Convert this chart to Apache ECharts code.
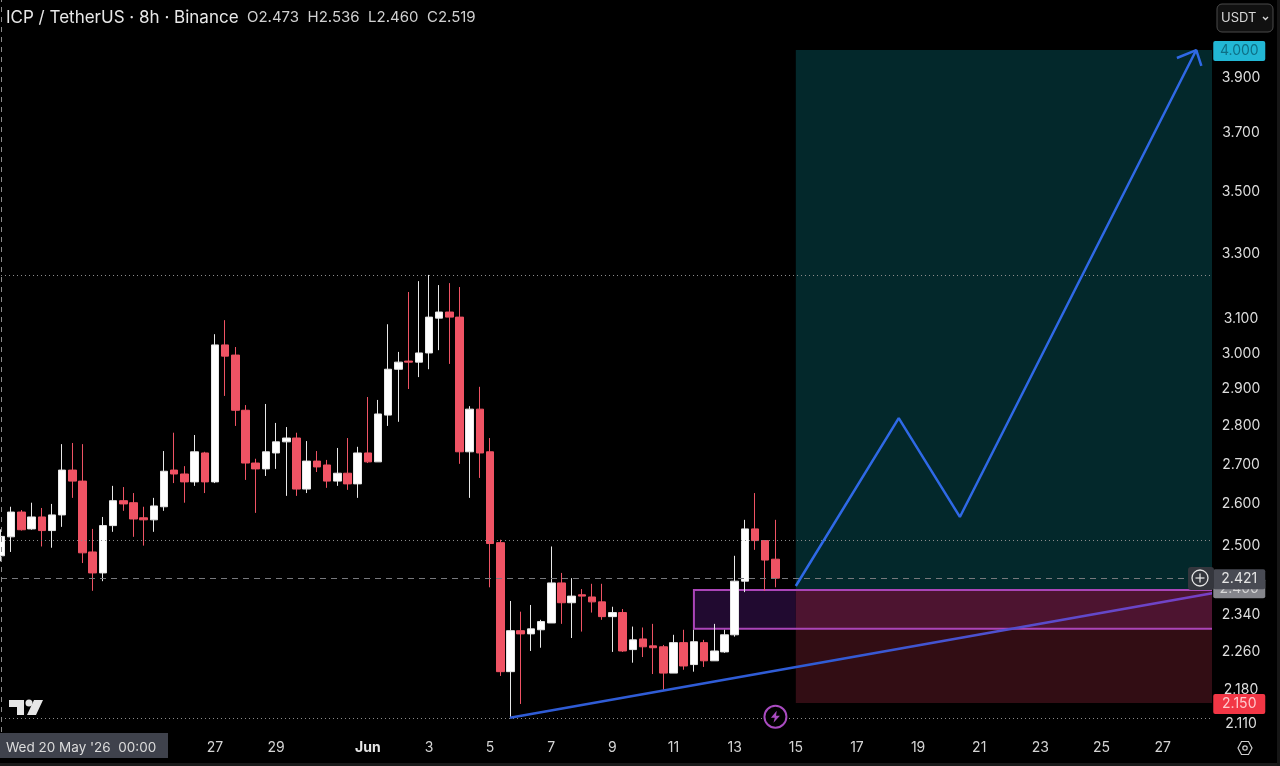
<!DOCTYPE html>
<html>
<head>
<meta charset="utf-8">
<title>ICP / TetherUS</title>
<script src="https://cdn.jsdelivr.net/npm/echarts@6/dist/echarts.min.js"></script>
<style>
  html, body { margin: 0; padding: 0; background: #000; }
  #chart { width: 1280px; height: 766px; }
</style>
</head>
<body>
<div id="chart"></div>
<script>
// days on the time axis, three 8h candles per day
var days = ["20", "21", "22", "23", "24", "25", "26", "27", "28", "29", "30", "31",
    "Jun", "2", "3", "4", "5", "6", "7", "8", "9", "10", "11", "12", "13", "14",
    "15", "16", "17", "18", "19", "20", "21", "22", "23", "24", "25", "26", "27", "28"];
var dayTicks = ["27", "29", "Jun", "3", "5", "7", "9", "11", "13", "15", "17", "19", "21", "23", "25"];

// [open, close, low, high], one row per 8h
var candles = [
    [2.473, 2.519, 2.460, 2.536], [2.518, 2.578, 2.482, 2.591], [2.578, 2.535, 2.533, 2.583], [2.537, 2.566, 2.535, 2.601],
    [2.566, 2.533, 2.495, 2.588], [2.533, 2.571, 2.492, 2.598], [2.571, 2.683, 2.542, 2.750], [2.683, 2.655, 2.613, 2.753],
    [2.655, 2.480, 2.456, 2.750], [2.482, 2.433, 2.392, 2.537], [2.433, 2.545, 2.414, 2.566], [2.545, 2.606, 2.530, 2.643],
    [2.606, 2.598, 2.581, 2.640], [2.601, 2.561, 2.518, 2.625], [2.564, 2.559, 2.497, 2.591], [2.559, 2.593, 2.530, 2.613],
    [2.591, 2.680, 2.581, 2.732], [2.683, 2.673, 2.650, 2.780], [2.673, 2.653, 2.601, 2.693], [2.653, 2.730, 2.643, 2.774],
    [2.727, 2.653, 2.625, 2.730], [2.653, 3.022, 2.650, 3.053], [3.022, 2.990, 2.879, 3.094], [2.993, 2.840, 2.798, 3.016],
    [2.840, 2.701, 2.658, 2.854], [2.701, 2.686, 2.576, 2.712], [2.686, 2.730, 2.668, 2.857], [2.727, 2.756, 2.686, 2.806],
    [2.756, 2.766, 2.618, 2.795], [2.766, 2.635, 2.618, 2.780], [2.635, 2.706, 2.625, 2.758], [2.706, 2.691, 2.678, 2.732],
    [2.696, 2.655, 2.638, 2.709], [2.655, 2.675, 2.643, 2.740], [2.675, 2.648, 2.633, 2.766], [2.648, 2.727, 2.613, 2.743],
    [2.727, 2.704, 2.701, 2.876], [2.704, 2.830, 2.704, 2.868], [2.827, 2.953, 2.798, 3.082], [2.953, 2.973, 2.809, 3.002],
    [2.976, 2.973, 2.898, 3.178], [2.973, 2.999, 2.931, 3.211], [2.999, 3.103, 2.953, 3.230], [3.100, 3.118, 3.007, 3.199],
    [3.118, 3.103, 2.968, 3.205], [3.103, 2.730, 2.699, 3.193], [2.730, 2.843, 2.613, 2.851], [2.843, 2.727, 2.663, 2.904],
    [2.730, 2.502, 2.400, 2.766], [2.504, 2.215, 2.206, 2.511], [2.215, 2.303, 2.120, 2.369], [2.303, 2.296, 2.148, 2.345],
    [2.296, 2.307, 2.259, 2.360], [2.305, 2.323, 2.266, 2.327], [2.320, 2.410, 2.320, 2.495], [2.410, 2.365, 2.318, 2.433],
    [2.365, 2.380, 2.287, 2.421], [2.383, 2.380, 2.301, 2.396], [2.378, 2.367, 2.343, 2.408], [2.367, 2.334, 2.327, 2.408],
    [2.334, 2.343, 2.257, 2.356], [2.343, 2.259, 2.257, 2.351], [2.262, 2.283, 2.234, 2.312], [2.285, 2.268, 2.246, 2.310],
    [2.270, 2.266, 2.210, 2.318], [2.268, 2.212, 2.177, 2.272], [2.212, 2.277, 2.212, 2.294], [2.277, 2.227, 2.219, 2.305],
    [2.230, 2.279, 2.215, 2.305], [2.277, 2.238, 2.225, 2.283], [2.238, 2.259, 2.238, 2.318], [2.257, 2.294, 2.255, 2.305],
    [2.294, 2.414, 2.290, 2.473], [2.414, 2.537, 2.389, 2.559], [2.537, 2.509, 2.487, 2.625], [2.509, 2.463, 2.392, 2.509],
    [2.465, 2.421, 2.400, 2.559]
];

// drawn setup, [candle index, price]
var forecastPath = [[78.0, 2.403], [88.1, 2.819], [94.1, 2.566], [117.3, 4.0]];
var arrowHead = [[115.4, 3.97], [117.3, 4.0], [117.8, 3.94]];
var trendLine = [[49.95, 2.12], [119, 2.387]];
var signalPoint = [[76, 2.122]];

var priceTicks = [3.9, 3.7, 3.5, 3.3, 3.1, 3.0, 2.9, 2.8, 2.7, 2.6, 2.5, 2.34, 2.26, 2.18, 2.11];
var tagValues = [2.4, 2.421, 4.0, 2.15];
var tagColors = ["#85868c", "#484a53", "#22b7d5", "#f23645"];
var tagTextColors = ["#d8d8d8", "#e4e4e4", "#0e6f86", "#ffc9cd"];
var dottedLevels = [3.233, 2.511, 2.12];
var crossPrice = 2.421;

var fontName = "Inter, 'Noto Sans', sans-serif";
var yMin = 2.0915, yMax = 4.195;

var categories = [];
days.forEach(function (d) {
    categories.push(d, d + " 08:00", d + " 16:00");
});

var markLines = dottedLevels.map(function (v) {
    return { yAxis: v, lineStyle: { type: [1, 3], color: "#8c8c8c", width: 1 } };
});
markLines.push({ yAxis: crossPrice, lineStyle: { type: [6, 5], color: "#77787c", width: 1 } });
markLines.push({ xAxis: 0, lineStyle: { type: [5, 5], color: "#8a8a8a", width: 1 } });

function overlayLine(name, data, color, width, z) {
    return {
        name: name,
        type: "line",
        xAxisIndex: 1,
        yAxisIndex: 0,
        data: data,
        symbol: "none",
        silent: true,
        z: z,
        lineStyle: { color: color, width: width }
    };
}

var chart = echarts.init(document.getElementById("chart"));
chart.setOption({
    animation: false,
    backgroundColor: "#000000",
    textStyle: { fontFamily: fontName },
    title: {
        left: 1,
        top: 4,
        text: "{main|ICP / TetherUS · 8h · Binance}{ohlc|  O" + candles[0][0].toFixed(3) + "  H" + candles[0][3].toFixed(3) +
            "  L" + candles[0][2].toFixed(3) + "  C" + candles[0][1].toFixed(3) + "}",
        textStyle: {
            fontWeight: "normal",
            rich: {
                main: { fontFamily: fontName, fontSize: 17, fontWeight: "normal", color: "#e8e8e8" },
                ohlc: { fontFamily: fontName, fontSize: 15, fontWeight: "normal", color: "#d0d0d0" }
            }
        }
    },
    grid: [
        { left: 1, top: 0, right: 66.4, bottom: 34 },
        { left: 1212, top: 1, right: 10, bottom: 33 }
    ],
    xAxis: [
        {
            type: "category",
            gridIndex: 0,
            boundaryGap: false,
            data: categories,
            axisLine: { show: false },
            axisTick: { show: false },
            splitLine: { show: false },
            axisLabel: {
                color: "#d4d4d4",
                fontFamily: fontName,
                fontSize: 14,
                margin: 9,
                hideOverlap: false,
                interval: function (index, value) {
                    return dayTicks.indexOf(value) >= 0;
                },
                formatter: function (value) {
                    return value === "Jun" ? "{b|Jun}" : value;
                },
                rich: { b: { fontFamily: fontName, fontSize: 14, fontWeight: "bold", color: "#e6e6e6" } }
            }
        },
        { type: "value", gridIndex: 0, min: 0, max: 119, show: false },
        { type: "value", gridIndex: 1, min: 0, max: 1, show: false }
    ],
    yAxis: [
        { type: "log", gridIndex: 0, min: yMin, max: yMax, show: false, splitLine: { show: false } },
        { type: "log", gridIndex: 1, min: yMin, max: yMax, show: false, splitLine: { show: false } }
    ],
    series: [
        {
            name: "ICPUSDT",
            type: "candlestick",
            xAxisIndex: 0,
            yAxisIndex: 0,
            data: candles,
            barWidth: 8,
            silent: true,
            itemStyle: {
                color: "#ffffff",
                color0: "#ef5364",
                borderColor: "#e8e8e8",
                borderColor0: "#ef5364",
                borderWidth: 1
            },
            markArea: {
                silent: true,
                data: [
                    [{ xAxis: 78, yAxis: 4.0, itemStyle: { color: "#03282b" } }, { xAxis: 119, yAxis: 2.394 }],
                    [{ xAxis: 78, yAxis: 2.394, itemStyle: { color: "#320d14" } }, { xAxis: 119, yAxis: 2.15 }],
                    [{ xAxis: 68, yAxis: 2.394, itemStyle: { color: "#210a30" } }, { xAxis: 78, yAxis: 2.307 }],
                    [{ xAxis: 78, yAxis: 2.394, itemStyle: { color: "#4d1430" } }, { xAxis: 119, yAxis: 2.307 }],
                    [{ xAxis: 68, yAxis: 2.394, itemStyle: { color: "rgba(0,0,0,0)", borderColor: "#ab45b8", borderWidth: 2 } },
                        { xAxis: 119, yAxis: 2.307 }]
                ]
            },
            markLine: {
                silent: true,
                symbol: "none",
                label: { show: false },
                data: markLines
            }
        },
        overlayLine("forecast", forecastPath, "#2f69e6", 2.5, 6),
        overlayLine("arrow", arrowHead, "#2f69e6", 2.5, 6),
        overlayLine("trend", trendLine, {
            type: "linear", x: 0, y: 0, x2: 1, y2: 0,
            colorStops: [{ offset: 0, color: "#2f5cd6" }, { offset: 0.45, color: "#2f5cd6" }, { offset: 1, color: "#7a3fc4" }]
        }, 2.5, 6),
        {
            name: "signal",
            type: "scatter",
            xAxisIndex: 0,
            yAxisIndex: 0,
            data: signalPoint,
            symbol: "circle",
            symbolSize: 22,
            silent: true,
            z: 7,
            itemStyle: { color: "#000000", borderColor: "#a94bc0", borderWidth: 2, opacity: 1 }
        },
        {
            name: "signalBolt",
            type: "scatter",
            xAxisIndex: 0,
            yAxisIndex: 0,
            data: signalPoint,
            symbol: "path://M13 1L4 14h6l-2 9 10-13h-6z",
            symbolSize: [9, 12],
            silent: true,
            z: 8,
            itemStyle: { color: "#a94bc0", opacity: 1 }
        },
        {
            name: "priceScale",
            type: "scatter",
            xAxisIndex: 2,
            yAxisIndex: 1,
            data: priceTicks.map(function (v) { return [0.5, v]; }),
            symbolSize: 0,
            silent: true,
            z: 10,
            itemStyle: { opacity: 1 },
            label: {
                show: true,
                position: "inside",
                color: "#dedede",
                fontFamily: fontName,
                fontSize: 14,
                formatter: function (p) { return p.value[1].toFixed(3); }
            }
        },
        {
            name: "priceTags",
            type: "scatter",
            xAxisIndex: 2,
            yAxisIndex: 1,
            symbolSize: 0,
            silent: true,
            z: 11,
            itemStyle: { opacity: 1 },
            data: tagValues.map(function (v, i) {
                return {
                    value: [0.47, v],
                    label: {
                        show: true,
                        position: "inside",
                        width: 52,
                        height: 20,
                        lineHeight: 20,
                        align: "center",
                        verticalAlign: "middle",
                        borderRadius: 2,
                        backgroundColor: tagColors[i],
                        color: tagTextColors[i],
                        fontFamily: fontName,
                        fontSize: 14,
                        formatter: v.toFixed(3)
                    }
                };
            })
        }
    ],
    graphic: [
        // black strip behind the price scale
        { type: "rect", z: 9, silent: true, shape: { x: 1212, y: 0, width: 68, height: 766 }, style: { fill: "#000000" } },
        // screenshot edges
        { type: "rect", z: 9, silent: true, shape: { x: 0, y: 763, width: 1280, height: 3 }, style: { fill: "#1a1a1a" } },
        { type: "rect", z: 9, silent: true, shape: { x: 1277, y: 0, width: 3, height: 766 }, style: { fill: "#161616" } },
        // crosshair date label
        { type: "rect", z: 20, shape: { x: 0, y: 733, width: 168, height: 25 }, style: { fill: "#3f424c" } },
        { type: "text", z: 21, x: 6, y: 748, style: { text: "Wed 20 May '26  00:00", fill: "#dcdcdc", font: "13.5px " + fontName, textVerticalAlign: "middle" } },
        // currency button
        { type: "rect", z: 20, shape: { x: 1217, y: 4, width: 56, height: 28, r: 5 }, style: { fill: "#111111", stroke: "#4a4a4a", lineWidth: 1 } },
        { type: "text", z: 21, x: 1221, y: 18, style: { text: "USDT", fill: "#d8d8d8", font: "13px " + fontName, textVerticalAlign: "middle" } },
        { type: "polyline", z: 21, shape: { points: [[1263, 17], [1265.5, 19.5], [1268, 17]] }, style: { stroke: "#d8d8d8", lineWidth: 1.3, fill: "none" } },
        // plus button on the crosshair
        { type: "rect", z: 20, shape: { x: 1188, y: 567, width: 26, height: 23, r: 3 }, style: { fill: "#34363d" } },
        { type: "circle", z: 21, shape: { cx: 1200, cy: 578, r: 8 }, style: { fill: "none", stroke: "#e4e4e4", lineWidth: 1.3 } },
        { type: "line", z: 21, shape: { x1: 1195.5, y1: 578, x2: 1204.5, y2: 578 }, style: { stroke: "#e4e4e4", lineWidth: 1.3 } },
        { type: "line", z: 21, shape: { x1: 1200, y1: 573.5, x2: 1200, y2: 582.5 }, style: { stroke: "#e4e4e4", lineWidth: 1.3 } },
        // TradingView mark
        { type: "polygon", z: 21, shape: { points: [[9, 700], [24, 700], [24, 715], [17, 715], [17, 707], [9, 707]] }, style: { fill: "#e6e6e6" } },
        { type: "circle", z: 21, shape: { cx: 29, cy: 703, r: 3.5 }, style: { fill: "#e6e6e6" } },
        { type: "polygon", z: 21, shape: { points: [[34, 700], [43, 700], [36, 715], [27, 715]] }, style: { fill: "#e6e6e6" } },
        // settings icon
        { type: "polygon", z: 21, shape: { points: [[1238, 748], [1241.5, 741.5], [1248.5, 741.5], [1252, 748], [1248.5, 754.5], [1241.5, 754.5]] }, style: { fill: "none", stroke: "#cfcfcf", lineWidth: 1.2 } },
        { type: "circle", z: 21, shape: { cx: 1245, cy: 748, r: 2.2 }, style: { fill: "none", stroke: "#cfcfcf", lineWidth: 1.2 } }
    ]
});

window.addEventListener("resize", function () {
    chart.resize();
});
</script>
</body>
</html>
